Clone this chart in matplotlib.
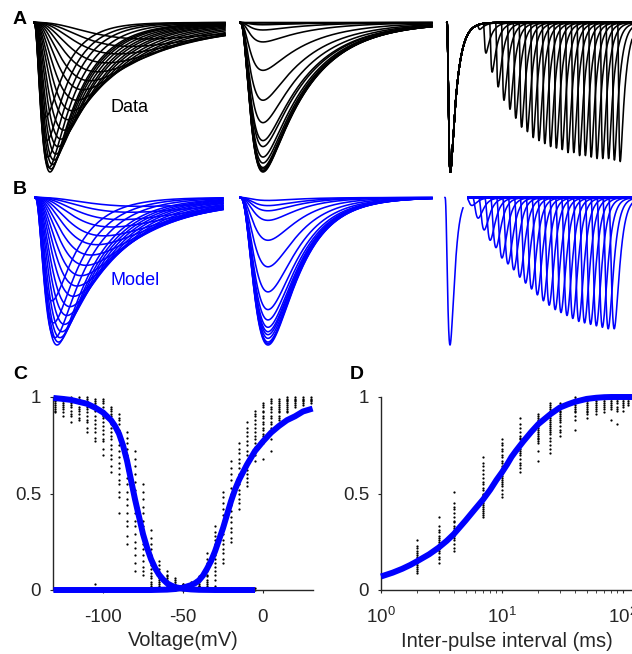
import numpy as np
import matplotlib
matplotlib.use('Agg')
import matplotlib.pyplot as plt

plt.rcParams['font.family'] = ['Liberation Sans', 'DejaVu Sans']
plt.rcParams['axes.unicode_minus'] = False

W, H = 632, 654
BLUE = '#0000ff'
INK = '#262626'

# ---------------- A / B left: current families at stepped voltages ----------------
# time to peak (ms), normalised peak amplitude, decay time constant (ms)
DATA_ACT_TPEAK = [1.2, 1.3, 1.4, 1.5, 1.6, 1.7, 1.85, 2.0, 2.2, 2.4, 2.7, 3.0, 3.4,
                  3.8, 4.3, 4.9, 5.6, 6.4, 7.3, 8.4, 9.7, 11.2]
DATA_ACT_AMP = [0.63, 0.79, 0.9, 0.97, 1.0, 0.98, 0.95, 0.92, 0.88, 0.83, 0.78, 0.72,
                0.65, 0.59, 0.52, 0.45, 0.39, 0.33, 0.27, 0.21, 0.16, 0.11]
DATA_ACT_TAU = [2.2, 2.4, 2.6, 2.9, 3.2, 3.3, 3.4, 3.6, 3.8, 4.0, 4.2, 4.4, 4.7,
                5.0, 5.4, 5.8, 6.3, 6.8, 7.3, 7.8, 8.4, 9.0]

MODEL_ACT_TPEAK = [1.7, 1.85, 2.0, 2.2, 2.35, 2.5, 2.7, 2.95, 3.2, 3.5, 3.85, 4.2,
                   4.6, 5.1, 5.6, 6.2, 6.9, 7.7, 8.6, 9.6, 10.8]
MODEL_ACT_AMP = [0.7, 0.85, 0.95, 1.0, 0.98, 0.95, 0.91, 0.86, 0.8, 0.74, 0.67, 0.6,
                 0.53, 0.46, 0.39, 0.32, 0.26, 0.2, 0.15, 0.1, 0.06]
MODEL_ACT_TAU = [2.8, 3.1, 3.4, 3.7, 3.9, 4.1, 4.3, 4.5, 4.8, 5.1, 5.4, 5.7, 6.0,
                 6.4, 6.8, 7.2, 7.7, 8.2, 8.7, 9.2, 9.8]

# ---------------- A / B middle: steady-state inactivation families ----------------
DATA_INACT_AMP = [0.0, 0.01, 0.015, 0.05, 0.13, 0.32, 0.52, 0.67, 0.79, 0.83, 0.9,
                  0.94, 0.97, 0.98, 0.99, 0.995, 1.0]
MODEL_INACT_AMP = [0.02, 0.055, 0.09, 0.155, 0.29, 0.47, 0.64, 0.76, 0.83, 0.88,
                   0.91, 0.93, 0.955, 0.98, 0.99, 1.0]
DATA_INACT_KIN = (2.3, 4.5)      # time to peak, decay (ms)
MODEL_INACT_KIN = (2.8, 3.0)

# ---------------- A / B right: recovery from inactivation ----------------
DATA_REC_TPEAK = [16.5, 19.5, 22.6, 25.6, 28.5, 31.5, 34.4, 37.3, 40.2, 43.1, 46.0,
                  48.9, 51.8, 54.7, 57.6, 60.5, 63.4, 66.3, 69.2, 72.1, 75.0, 77.9,
                  80.8, 83.7, 86.6]
DATA_REC_AMP = [0.034, 0.2, 0.33, 0.43, 0.52, 0.58, 0.64, 0.7, 0.73, 0.77, 0.79,
                0.81, 0.83, 0.84, 0.85, 0.87, 0.87, 0.89, 0.89, 0.9, 0.91, 0.91,
                0.91, 0.92, 0.93]
MODEL_REC_TPEAK = [13.5, 16.6, 19.6, 22.6, 25.5, 28.5, 31.5, 34.4, 37.4, 40.3, 43.3,
                   46.2, 49.2, 52.1, 55.1, 58.0, 61.0, 63.9, 66.9, 69.8, 72.8, 75.7,
                   78.7, 81.6, 84.6]
MODEL_REC_AMP = [0.054, 0.14, 0.22, 0.29, 0.34, 0.41, 0.45, 0.49, 0.54, 0.58, 0.62,
                 0.66, 0.7, 0.73, 0.76, 0.78, 0.8, 0.82, 0.84, 0.85, 0.86, 0.87,
                 0.88, 0.89, 0.89]
DATA_COND_KIN = (1.7, 3.2)
DATA_TEST_KIN = (1.3, 2.6)
MODEL_COND_KIN = (2.5, 1.9)
MODEL_TEST_KIN = (2.8, 2.4)

# ---------------- C: steady-state activation / inactivation ----------------
C_INACT_CURVE_V = [-131, -125, -120, -115, -110, -105, -100, -97.5, -95, -92.5, -90,
                   -87.5, -85, -82.5, -80, -77.5, -75, -72.5, -70, -67.5, -65, -62.5,
                   -60, -57.5, -55, -50, -45, -40, -30, -20, -10, -5]
C_INACT_CURVE = [0.995, 0.99, 0.985, 0.975, 0.965, 0.945, 0.92, 0.9, 0.88, 0.85,
                 0.81, 0.75, 0.67, 0.57, 0.47, 0.38, 0.29, 0.22, 0.16, 0.115, 0.08,
                 0.055, 0.035, 0.024, 0.015, 0.007, 0.003, 0.001, 0.0, 0.0, 0.0, 0.0]
C_ACT_CURVE_V = [-131, -100, -70, -60, -55, -50, -45, -42.5, -40, -37.5, -35, -32.5,
                 -30, -27.5, -25, -22.5, -20, -17.5, -15, -12.5, -10, -5, 0, 5, 10,
                 15, 20, 25, 31]
C_ACT_CURVE = [0.0, 0.0, 0.0, 0.002, 0.005, 0.012, 0.025, 0.035, 0.05, 0.075, 0.11,
               0.15, 0.2, 0.26, 0.32, 0.39, 0.46, 0.52, 0.57, 0.61, 0.65, 0.72, 0.77,
               0.815, 0.85, 0.88, 0.9, 0.925, 0.94]

C_INACT_VOLTS = [-130, -125, -120, -115, -110, -105, -100, -95, -90, -85, -80, -75,
                 -70, -65, -60, -55, -50, -45, -40, -35, -30, -25, -20, -15, -10, -5]
C_INACT_POINTS = [
    [1.0, 0.99, 0.985, 0.98, 0.97, 0.96, 0.95, 0.94, 0.93, 0.92],
    [1.0, 0.99, 0.98, 0.97, 0.96, 0.95, 0.94, 0.92, 0.9],
    [1.0, 0.99, 0.98, 0.97, 0.96, 0.95, 0.93, 0.91, 0.9, 0.87],
    [1.0, 0.99, 0.98, 0.97, 0.95, 0.94, 0.93, 0.91, 0.89, 0.88],
    [1.0, 0.99, 0.98, 0.97, 0.95, 0.94, 0.92, 0.9, 0.88, 0.87, 0.84, 0.82],
    [0.99, 0.98, 0.97, 0.96, 0.94, 0.93, 0.9, 0.88, 0.86, 0.84, 0.82, 0.79, 0.77, 0.03],
    [0.99, 0.98, 0.97, 0.95, 0.93, 0.92, 0.9, 0.89, 0.87, 0.85, 0.83, 0.81, 0.78,
     0.77, 0.73, 0.7],
    [0.95, 0.94, 0.93, 0.91, 0.9, 0.88, 0.86, 0.84, 0.82, 0.8, 0.78, 0.75, 0.73,
     0.7, 0.68, 0.64, 0.61],
    [0.91, 0.89, 0.88, 0.86, 0.83, 0.81, 0.78, 0.75, 0.72, 0.69, 0.66, 0.63, 0.6,
     0.57, 0.55, 0.51, 0.48, 0.4],
    [0.82, 0.79, 0.76, 0.73, 0.7, 0.66, 0.62, 0.58, 0.55, 0.51, 0.47, 0.44, 0.4,
     0.36, 0.33, 0.28, 0.24],
    [0.72, 0.68, 0.64, 0.6, 0.56, 0.52, 0.48, 0.44, 0.4, 0.36, 0.33, 0.29, 0.25,
     0.22, 0.18, 0.14, 0.1],
    [0.55, 0.51, 0.47, 0.43, 0.4, 0.36, 0.33, 0.3, 0.27, 0.24, 0.21, 0.18, 0.15,
     0.12, 0.1, 0.08],
    [0.31, 0.27, 0.24, 0.21, 0.18, 0.15, 0.13, 0.11, 0.09, 0.07, 0.06, 0.04, 0.03,
     0.02, 0.01],
    [0.15, 0.13, 0.11, 0.09, 0.08, 0.07, 0.06, 0.05, 0.04, 0.03, 0.02, 0.01, 0.0],
    [0.1, 0.08, 0.07, 0.06, 0.05, 0.04, 0.03, 0.02, 0.01, 0.0],
    [0.06, 0.05, 0.04, 0.03, 0.02, 0.015, 0.01, 0.0],
    [0.03, 0.025, 0.02, 0.015, 0.01, 0.005, 0.0],
    [0.03, 0.02, 0.015, 0.01, 0.0],
    [0.02, 0.01, 0.005, 0.0],
    [0.01, 0.0], [0.01, 0.0], [0.01, 0.0], [0.01, 0.0], [0.01, 0.0], [0.01, 0.0],
    [0.01, 0.0],
]
C_ACT_VOLTS = [-55, -50, -45, -40, -35, -30, -25, -20, -15, -10, -5, 0, 5, 10, 15,
               20, 25, 30]
C_ACT_POINTS = [
    [0.02, 0.01, 0.0],
    [0.03, 0.02, 0.01, 0.0],
    [0.04, 0.03, 0.02, 0.01, 0.0],
    [0.07, 0.06, 0.05, 0.04, 0.03, 0.02, 0.01, 0.0],
    [0.19, 0.16, 0.14, 0.12, 0.1, 0.08, 0.07, 0.05, 0.04, 0.03, 0.02, 0.0],
    [0.33, 0.3, 0.28, 0.26, 0.24, 0.22, 0.2, 0.18, 0.16, 0.14, 0.12, 0.1, 0.08,
     0.05, 0.02],
    [0.51, 0.48, 0.45, 0.42, 0.39, 0.36, 0.34, 0.31, 0.29, 0.26, 0.24, 0.21, 0.19,
     0.16, 0.14],
    [0.67, 0.63, 0.6, 0.57, 0.53, 0.5, 0.47, 0.44, 0.41, 0.38, 0.35, 0.32, 0.3,
     0.27, 0.25],
    [0.76, 0.73, 0.71, 0.68, 0.66, 0.63, 0.6, 0.58, 0.55, 0.52, 0.5, 0.47, 0.45,
     0.42],
    [0.87, 0.84, 0.82, 0.8, 0.77, 0.75, 0.72, 0.7, 0.67, 0.64, 0.62, 0.6, 0.58,
     0.56, 0.54],
    [0.93, 0.91, 0.9, 0.88, 0.86, 0.84, 0.82, 0.8, 0.78, 0.76, 0.74, 0.72, 0.7,
     0.67],
    [0.97, 0.96, 0.95, 0.93, 0.92, 0.9, 0.89, 0.87, 0.86, 0.84, 0.83, 0.81, 0.8,
     0.76, 0.68],
    [0.99, 0.98, 0.97, 0.95, 0.94, 0.92, 0.9, 0.89, 0.87, 0.86, 0.84, 0.82, 0.78,
     0.72],
    [0.99, 0.98, 0.97, 0.96, 0.95, 0.94, 0.93, 0.92, 0.9, 0.89, 0.88, 0.86],
    [1.0, 0.99, 0.985, 0.98, 0.97, 0.96, 0.95, 0.94, 0.93, 0.92],
    [1.0, 0.99, 0.985, 0.98, 0.97, 0.96, 0.95],
    [1.0, 0.99, 0.985, 0.98, 0.97, 0.96],
    [1.0, 0.99, 0.985, 0.98, 0.97],
]

# ---------------- D: recovery from inactivation ----------------
D_CURVE_MS = [1, 1.25, 1.5, 1.75, 2, 2.5, 3, 3.5, 4, 5, 6, 7, 8, 9, 10, 11, 12, 13,
              15, 17.5, 20, 25, 30, 35, 40, 45, 50, 60, 70, 80, 119]
D_CURVE = [0.07, 0.09, 0.11, 0.13, 0.15, 0.185, 0.22, 0.255, 0.29, 0.36, 0.42, 0.47,
           0.52, 0.57, 0.61, 0.65, 0.69, 0.72, 0.77, 0.82, 0.86, 0.91, 0.945, 0.962,
           0.975, 0.983, 0.99, 0.996, 0.999, 1.0, 1.0]
D_INTERVALS = [2, 3, 4, 7, 10, 14, 20, 25, 30, 40, 50, 60, 70, 80, 90, 100, 110]
D_POINTS = [
    [0.26, 0.23, 0.22, 0.2, 0.19, 0.18, 0.17, 0.16, 0.15, 0.14, 0.13, 0.12, 0.11,
     0.1, 0.09],
    [0.38, 0.33, 0.31, 0.3, 0.28, 0.27, 0.26, 0.25, 0.24, 0.23, 0.22, 0.21, 0.2,
     0.19, 0.17, 0.16, 0.14],
    [0.51, 0.45, 0.43, 0.42, 0.4, 0.38, 0.36, 0.35, 0.33, 0.32, 0.31, 0.3, 0.29,
     0.28, 0.27, 0.26, 0.24, 0.22, 0.2],
    [0.69, 0.66, 0.64, 0.62, 0.6, 0.58, 0.56, 0.55, 0.53, 0.52, 0.5, 0.49, 0.48,
     0.47, 0.46, 0.45, 0.44, 0.43, 0.42, 0.41, 0.4, 0.39, 0.38],
    [0.78, 0.76, 0.75, 0.73, 0.72, 0.7, 0.69, 0.67, 0.66, 0.64, 0.63, 0.62, 0.61,
     0.6, 0.59, 0.58, 0.57, 0.56, 0.55, 0.54, 0.52, 0.5, 0.48],
    [0.89, 0.86, 0.84, 0.82, 0.8, 0.79, 0.78, 0.76, 0.75, 0.74, 0.73, 0.72, 0.71,
     0.7, 0.68, 0.66, 0.65, 0.63, 0.61],
    [0.91, 0.9, 0.89, 0.88, 0.87, 0.86, 0.85, 0.84, 0.83, 0.82, 0.81, 0.8, 0.79,
     0.78, 0.77, 0.76, 0.72, 0.67],
    [0.97, 0.96, 0.95, 0.94, 0.93, 0.92, 0.91, 0.9, 0.89, 0.88, 0.87, 0.86, 0.85,
     0.84, 0.83, 0.82, 0.81, 0.79, 0.77, 0.75, 0.73, 0.71],
    [0.97, 0.96, 0.95, 0.94, 0.93, 0.92, 0.91, 0.9, 0.89, 0.88, 0.87, 0.85, 0.83,
     0.82, 0.8],
    [1.0, 0.99, 0.98, 0.97, 0.96, 0.95, 0.94, 0.93, 0.92, 0.9, 0.88, 0.83],
    [0.99, 0.98, 0.97, 0.96, 0.95, 0.94, 0.93, 0.92, 0.91, 0.89],
    [0.99, 0.98, 0.97, 0.96, 0.95, 0.94, 0.93, 0.91],
    [0.99, 0.98, 0.97, 0.96, 0.95, 0.94, 0.92],
    [0.99, 0.98, 0.97, 0.96, 0.95, 0.94, 0.88],
    [0.99, 0.98, 0.97, 0.95, 0.94, 0.93, 0.86],
    [0.99, 0.98, 0.97, 0.96, 0.95, 0.93],
    [1.0, 0.99, 0.98, 0.97, 0.96],
]


def wave(t, onset, tpk, tau_h):
    """m^3 h shaped current pulse, normalised to 1 at its peak"""
    grid = np.linspace(0.002 * tpk, 5 * tpk, 4000)
    tau_m = np.interp(tpk, grid * np.log1p(3 * tau_h / grid), grid)
    s = np.clip(t - onset, 0, None)
    g = (1 - np.exp(-s / tau_m)) ** 3 * np.exp(-s / tau_h)
    gpk = (1 - np.exp(-tpk / tau_m)) ** 3 * np.exp(-tpk / tau_h)
    return g / gpk


fig = plt.figure(figsize=(W / 100, H / 100), dpi=100)


def px_axes(x0, x1, y0, y1, xa, ya, logx=False):
    ax = fig.add_axes([x0 / W, 1 - y1 / H, (x1 - x0) / W, (y1 - y0) / H])
    p1, v1, p2, v2 = xa
    if logx:
        ax.set_xscale('log')
        v1, v2 = np.log10(v1), np.log10(v2)
    sx = (v2 - v1) / (p2 - p1)
    lo, hi = v1 + (x0 - p1) * sx, v1 + (x1 - p1) * sx
    if logx:
        lo, hi = 10 ** lo, 10 ** hi
    ax.set_xlim(lo, hi)
    q1, w1, q2, w2 = ya
    sy = (w2 - w1) / (q2 - q1)
    ax.set_ylim(w1 + (y1 - q1) * sy, w1 + (y0 - q1) * sy)
    return ax


def trace_axes(x0, x1, y0, y1, onset_px, ms_per_px, base_px, peak_px):
    ax = px_axes(x0, x1, y0, y1, (onset_px, 0, onset_px + 100, 100 * ms_per_px),
                 (base_px, 0, peak_px, -1))
    ax.axis('off')
    return ax


LW = 1.15

# ---- row A (data, black) ----
ax = trace_axes(30, 228, 5, 185, 34, 0.1, 22.5, 172)
t = np.linspace(0, 19.1, 1500)
for tp, a, tau in zip(DATA_ACT_TPEAK, DATA_ACT_AMP, DATA_ACT_TAU):
    ax.plot(t, -a * wave(t, 0, tp, tau), color='black', lw=LW)
ax.text(9.5, -0.57, 'Data', fontsize=13, ha='center', va='center')

ax = trace_axes(236, 434, 5, 185, 240, 0.1, 22.5, 172)
t = np.linspace(0, 19.2, 1500)
for a in DATA_INACT_AMP:
    ax.plot(t, -a * wave(t, 0, *DATA_INACT_KIN), color='black', lw=LW)

ax = trace_axes(443, 632, 5, 185, 447, 0.5, 22.5, 172)
t = np.linspace(0, 92.5, 6000)
cond = wave(t, 0, *DATA_COND_KIN)
for tp, a in zip(DATA_REC_TPEAK, DATA_REC_AMP):
    ax.plot(t, -(cond + a * wave(t, tp - DATA_TEST_KIN[0], *DATA_TEST_KIN)),
            color='black', lw=LW)

# ---- row B (model, blue) ----
ax = trace_axes(30, 228, 182, 360, 35, 0.1, 197.5, 345)
t = np.linspace(0, 18.8, 1500)
for tp, a, tau in zip(MODEL_ACT_TPEAK, MODEL_ACT_AMP, MODEL_ACT_TAU):
    ax.plot(t, -a * wave(t, 0, tp, tau), color=BLUE, lw=LW)
ax.text(10.0, -0.56, 'Model', fontsize=13, ha='center', va='center', color=BLUE)

ax = trace_axes(236, 434, 182, 360, 240, 0.1, 197.5, 345)
t = np.linspace(0, 19.2, 1500)
for a in MODEL_INACT_AMP:
    ax.plot(t, -a * wave(t, 0, *MODEL_INACT_KIN), color=BLUE, lw=LW)

ax = trace_axes(441, 632, 182, 360, 445, 0.5, 197.5, 345)
t1 = np.linspace(0, 9, 600)
ax.plot(t1, -wave(t1, 0, *MODEL_COND_KIN), color=BLUE, lw=LW)
t2 = np.linspace(11.5, 93.5, 6000)
for tp, a in zip(MODEL_REC_TPEAK, MODEL_REC_AMP):
    ax.plot(t2, -a * wave(t2, tp - MODEL_TEST_KIN[0], *MODEL_TEST_KIN),
            color=BLUE, lw=LW)


def style_axes(ax):
    for side in ('top', 'right'):
        ax.spines[side].set_visible(False)
    for side in ('left', 'bottom'):
        ax.spines[side].set_color(INK)
        ax.spines[side].set_linewidth(1.0)
    ax.tick_params(colors=INK, labelsize=13.5, length=2.5, width=0.8, direction='out')
    ax.tick_params(axis='x', pad=11)
    ax.tick_params(axis='y', pad=6)
    ax.set_yticks([0, 0.5, 1])
    ax.set_yticklabels(['0', '0.5', '1'])


DOT = 2.6

# ---- C ----
ax = px_axes(53, 313, 397, 590, (103, -100, 263, 0), (590, 0, 397, 1))
style_axes(ax)
for v, pts in zip(C_INACT_VOLTS, C_INACT_POINTS):
    ax.scatter([v] * len(pts), pts, s=DOT, color='black', lw=0, clip_on=False, zorder=2)
for v, pts in zip(C_ACT_VOLTS, C_ACT_POINTS):
    ax.scatter([v] * len(pts), pts, s=DOT, color='black', lw=0, clip_on=False, zorder=2)
ax.plot(C_INACT_CURVE_V, C_INACT_CURVE, color=BLUE, lw=4.3, clip_on=False, zorder=3,
        solid_capstyle='butt')
ax.plot(C_ACT_CURVE_V, C_ACT_CURVE, color=BLUE, lw=4.3, clip_on=False, zorder=3,
        solid_capstyle='butt')
ax.set_xticks([-100, -50, 0])
ax.set_xticklabels(['-100', '-50', '0'])
ax.set_xlabel('Voltage(mV)', fontsize=14.5, color=INK, labelpad=4)

# ---- D ----
ax = px_axes(381, 632, 397, 590, (381, 1, 623, 100), (590, 0, 397, 1), logx=True)
style_axes(ax)
for ms, pts in zip(D_INTERVALS, D_POINTS):
    ax.scatter([ms] * len(pts), pts, s=DOT, color='black', lw=0, clip_on=False, zorder=2)
ax.plot(D_CURVE_MS, D_CURVE, color=BLUE, lw=4.3, clip_on=False, zorder=3,
        solid_capstyle='butt')
ax.set_xticks([1, 10, 100])
ax.tick_params(axis='x', which='minor', length=1.8, width=0.6, colors=INK)
ax.tick_params(axis='x', pad=10)
ax.set_xlabel('Inter-pulse interval (ms)', fontsize=14.5, color=INK, labelpad=3)

# ---- panel letters ----
for letter, x, y in [('A', 20, 19), ('B', 20, 190), ('C', 20, 374), ('D', 357, 374)]:
    fig.text(x / W, 1 - y / H, letter, fontsize=14, fontweight='bold',
             ha='center', va='center')

fig.savefig('out.png', dpi=100)
